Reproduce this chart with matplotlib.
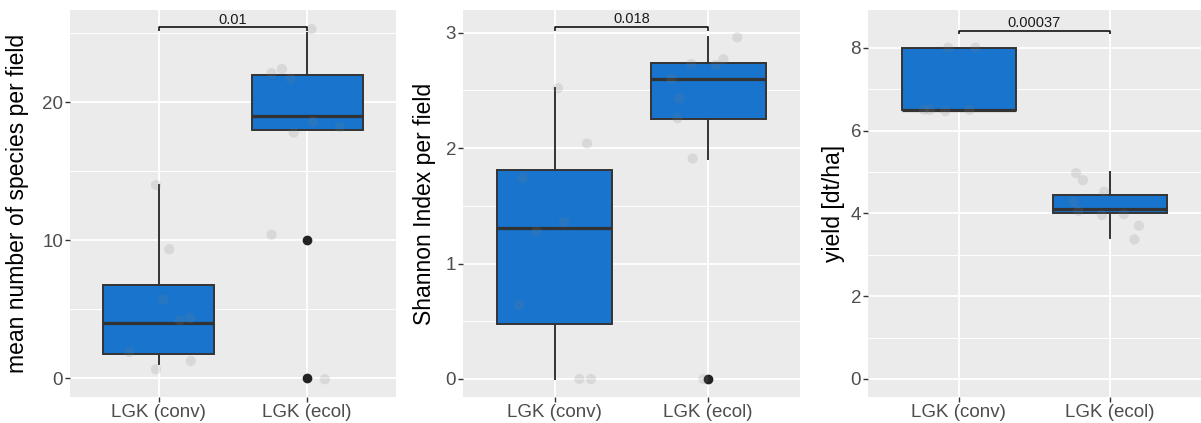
import matplotlib
matplotlib.use("Agg")
import matplotlib.pyplot as plt
from matplotlib.ticker import MultipleLocator

plt.rcParams['font.family'] = ['Liberation Sans', 'DejaVu Sans']

groups = ['LGK (conv)', 'LGK (ecol)']

# panel 1: mean number of species per field
species_stats = [dict(whislo=1.0, q1=1.75, med=4.0, q3=6.75, whishi=14.0, fliers=[]),
                 dict(whislo=18.0, q1=18.0, med=19.0, q3=22.0, whishi=25.0, fliers=[10, 0])]
species_conv = [14.0, 9.35, 5.7, 4.2, 4.35, 1.9, 1.25, 0.65]
species_ecol = [25.3, 22.1, 22.4, 21.7, 18.6, 17.8, 18.2, 10.4, -0.07]
species_p = '0.01'

# panel 2: Shannon index per field
shannon_stats = [dict(whislo=0.0, q1=0.48, med=1.31, q3=1.81, whishi=2.52, fliers=[]),
                 dict(whislo=1.91, q1=2.25, med=2.6, q3=2.74, whishi=2.96, fliers=[0])]
shannon_conv = [2.52, 2.04, 1.74, 1.36, 1.28, 0.64, 0.0, 0.0]
shannon_ecol = [2.96, 2.73, 2.77, 2.72, 2.6, 2.43, 2.26, 1.91, 0.0]
shannon_p = '0.018'

# panel 3: yield
yield_stats = [dict(whislo=6.5, q1=6.5, med=6.5, q3=8.0, whishi=8.0, fliers=[]),
               dict(whislo=3.4, q1=4.0, med=4.1, q3=4.45, whishi=5.0, fliers=[])]
yield_conv = [8.0, 8.0, 6.5, 6.5, 6.47, 6.5]
yield_ecol = [4.97, 4.8, 4.52, 4.28, 4.06, 3.96, 3.98, 3.7, 3.37]
yield_p = '0.00037'

# horizontal jitter of the raw points (as drawn)
species_dx = ([-0.02, 0.07, 0.03, 0.14, 0.21, -0.2, 0.215, -0.02],
              [0.03, -0.24, -0.17, -0.11, 0.04, -0.09, 0.22, -0.24, 0.12])
shannon_dx = ([0.02, 0.21, -0.21, 0.06, -0.12, -0.235, 0.16, 0.235],
              [0.19, -0.11, 0.1, 0.05, -0.24, -0.19, -0.2, -0.1, -0.03])
yield_dx = ([-0.07, 0.11, -0.23, -0.19, -0.09, 0.07],
            [-0.225, -0.18, -0.04, -0.24, -0.21, -0.055, 0.09, 0.19, 0.16])

panels = [
    dict(stats=species_stats, pts=(species_conv, species_ecol), dx=species_dx, p=species_p,
         ylabel='mean number of species per field', ylim=(-1.36, 26.68), major=10, minor=5,
         bracket=25.45, tip=0.3, rect=(70, 396), labx=-0.125),
    dict(stats=shannon_stats, pts=(shannon_conv, shannon_ecol), dx=shannon_dx, p=shannon_p,
         ylabel='Shannon Index per field', ylim=(-0.156, 3.197), major=1, minor=0.5,
         bracket=3.052, tip=0.035, rect=(463, 800), labx=-0.08),
    dict(stats=yield_stats, pts=(yield_conv, yield_ecol), dx=yield_dx, p=yield_p,
         ylabel='yield [dt/ha]', ylim=(-0.435, 8.91), major=2, minor=1,
         bracket=8.41, tip=0.08, rect=(868, 1201), labx=-0.07),
]

W, H = 1201, 423
fig = plt.figure(figsize=(W / 100, H / 100), dpi=100)
fig.patch.set_facecolor('white')

box_fill = '#1874CD'
line_col = '#333333'

for pn in panels:
    x0, x1 = pn['rect']
    ax = fig.add_axes([x0 / W, 26 / H, (x1 - x0) / W, 387 / H])
    ax.set_facecolor('#EBEBEB')
    for s in ax.spines.values():
        s.set_visible(False)

    ax.bxp(pn['stats'], positions=[1, 2], widths=0.75, patch_artist=True, showcaps=False,
           boxprops=dict(facecolor=box_fill, edgecolor=line_col, linewidth=1.4),
           whiskerprops=dict(color=line_col, linewidth=1.4),
           medianprops=dict(color=line_col, linewidth=2.3),
           flierprops=dict(marker='o', markersize=6, markerfacecolor='#222222',
                           markeredgecolor='#222222'),
           zorder=3)

    for i, (ys, dxs) in enumerate(zip(pn['pts'], pn['dx'])):
        xs = [i + 1 + d for d in dxs]
        ax.scatter(xs, ys, s=55, color='#808080', alpha=0.17, edgecolors='none', zorder=4)

    # significance bracket
    yb, tp = pn['bracket'], pn['tip']
    ax.plot([1, 1, 2, 2], [yb - tp, yb, yb, yb - tp], color='black', linewidth=1.1,
            zorder=5, solid_capstyle='butt')
    ax.annotate(pn['p'], (1.5, yb), xytext=(0, 0.3), textcoords='offset points',
                ha='center', va='bottom', fontsize=10.5, color='#1A1A1A')

    ax.set_xlim(0.4, 2.6)
    ax.set_ylim(*pn['ylim'])
    ax.set_xticks([1, 2])
    ax.set_xticklabels(groups)
    ax.yaxis.set_major_locator(MultipleLocator(pn['major']))
    ax.yaxis.set_minor_locator(MultipleLocator(pn['minor']))
    ax.grid(which='major', color='white', linewidth=1.3, zorder=0)
    ax.grid(which='minor', axis='y', color='white', linewidth=0.7, zorder=0)
    ax.set_axisbelow(True)
    ax.tick_params(which='major', length=3.5, width=1.0, color=line_col,
                   labelcolor='#4D4D4D', labelsize=13.5, pad=1.5)
    ax.tick_params(which='minor', length=0)
    ax.set_ylabel(pn['ylabel'], fontsize=16.5, color='black')
    ax.yaxis.set_label_coords(pn['labx'], 0.5)

fig.savefig('out.png', dpi=100, facecolor='white')
